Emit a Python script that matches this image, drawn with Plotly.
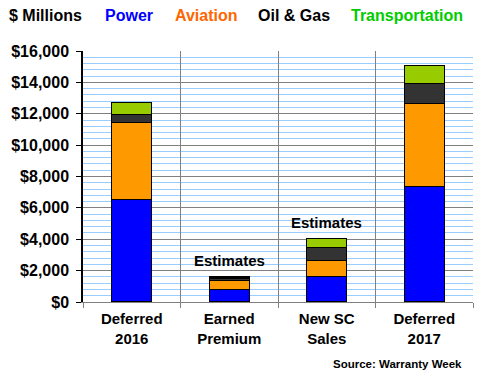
import plotly.graph_objects as go

categories = ["Deferred<br>2016", "Earned<br>Premium", "New SC<br>Sales", "Deferred<br>2017"]
power = [6550, 810, 1640, 7370]
aviation = [4900, 570, 1020, 5290]
oil_gas = [510, 150, 830, 1275]
transportation = [770, 110, 570, 1150]
y_tickvals = [0, 2000, 4000, 6000, 8000, 10000, 12000, 14000, 16000]
y_ticktext = ["$0", "$2,000", "$4,000", "$6,000", "$8,000", "$10,000", "$12,000", "$14,000", "$16,000"]
estimate_cats = ["Earned<br>Premium", "New SC<br>Sales"]

FONT = "Arial, Liberation Sans, sans-serif"

fig = go.Figure()
series = [
    ("Power", power, "#0000FF"),
    ("Aviation", aviation, "#FF9900"),
    ("Oil & Gas", oil_gas, "#333333"),
    ("Transportation", transportation, "#99CC00"),
]
for name, vals, col in series:
    fig.add_trace(go.Bar(x=categories, y=vals, name=name,
                         marker=dict(color=col, line=dict(color="black", width=1.2))))

totals = [p + a + o + t for p, a, o, t in zip(power, aviation, oil_gas, transportation)]

annotations = []
for cat in estimate_cats:
    i = categories.index(cat)
    annotations.append(dict(x=cat, y=totals[i], xref="x", yref="y", text="<b>Estimates</b>",
                            showarrow=False, yanchor="middle", yshift=16,
                            font=dict(family=FONT, size=15, color="black")))

W = 390.0
H = 251.0
def px(x):
    return (x - 83) / W
def py(y):
    return (302 - y) / H

header = [("$ Millions", 7, "black"), ("Power", 103, "#0000FF"), ("Aviation", 173, "#FF6600"),
          ("Oil & Gas", 256, "black"), ("Transportation", 349, "#00CC00")]
for txt, x, col in header:
    annotations.append(dict(x=px(x), y=py(16), xref="paper", yref="paper", text="<b>%s</b>" % txt,
                            showarrow=False, xanchor="left", yanchor="middle",
                            font=dict(family=FONT, size=16, color=col)))
annotations.append(dict(x=px(464), y=py(364), xref="paper", yref="paper",
                        text="<b>Source: Warranty Week</b>", showarrow=False,
                        xanchor="right", yanchor="middle",
                        font=dict(family=FONT, size=11.5, color="black")))

fig.update_layout(
    barmode="stack",
    bargap=0.59,
    width=480, height=380,
    margin=dict(l=83, r=7, t=51, b=78, autoexpand=False),
    paper_bgcolor="white", plot_bgcolor="white",
    showlegend=False,
    annotations=annotations,
    font=dict(family=FONT, color="black"),
)
fig.update_xaxes(
    type="category", tickson="boundaries", showgrid=True, gridcolor="#808080", gridwidth=1,
    showline=True, linecolor="#808080", linewidth=1,
    ticks="outside", ticklen=5, tickcolor="#808080",
    tickfont=dict(family=FONT, size=15, color="black"),
    tickvals=categories, ticktext=["<b>%s</b>" % c for c in categories],
    ticklabelstandoff=3,
    range=[-0.5, 3.5],
)
fig.update_yaxes(
    range=[0, 16000], tickvals=y_tickvals, ticktext=["<b>%s</b>" % t for t in y_ticktext],
    showgrid=True, gridcolor="#808080", gridwidth=1,
    minor=dict(dtick=400, tick0=0, showgrid=True, gridcolor="#99CCFF", gridwidth=1),
    showline=True, linecolor="black", linewidth=1.5,
    ticks="outside", ticklen=5, tickcolor="black",
    tickfont=dict(family=FONT, size=16, color="black"),
    ticklabelstandoff=4,
    zeroline=False,
)

fig.write_html("out.html", config={"displayModeBar": False},
               post_script="document.body.style.margin='0';document.body.style.overflow='hidden';")
